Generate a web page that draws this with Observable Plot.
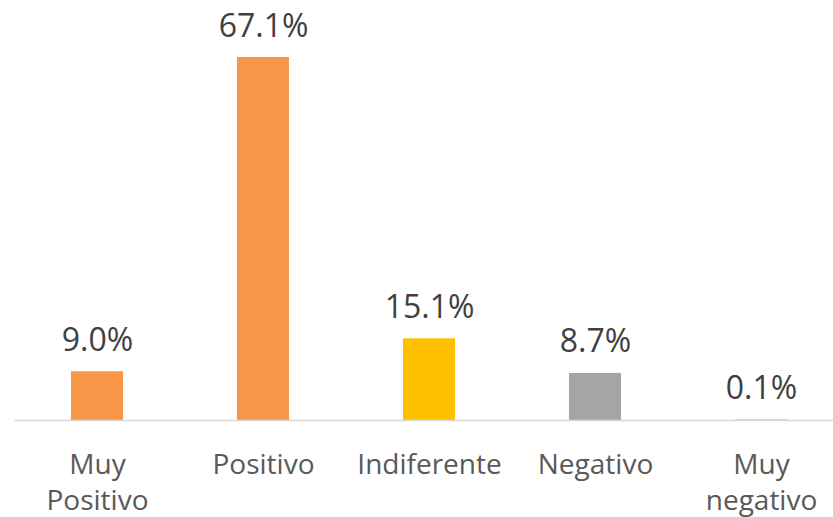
<!DOCTYPE html>
<html>
<head>
<meta charset="utf-8">
<script src="https://cdn.jsdelivr.net/npm/d3@7"></script>
<script src="https://cdn.jsdelivr.net/npm/@observablehq/plot@0.6"></script>
<style>
  html, body { margin: 0; padding: 0; background: #fff; }
  #chart svg { display: block; }
</style>
</head>
<body>
<div id="chart"></div>
<script>
const categories = ["Muy Positivo", "Positivo", "Indiferente", "Negativo", "Muy negativo"];
const tickLabels = ["Muy\nPositivo", "Positivo", "Indiferente", "Negativo", "Muy\nnegativo"];
const values = [9.0, 67.1, 15.1, 8.7, 0.1];
const colors = ["#F79646", "#F79646", "#FFC000", "#A5A5A5", "#A5A5A5"];

const data = categories.map((c, i) => ({ category: c, value: values[i], color: colors[i] }));
const labelOf = new Map(categories.map((c, i) => [c, tickLabels[i]]));

const chart = Plot.plot({
  width: 833,
  height: 517,
  marginTop: 0,
  marginLeft: 14,
  marginRight: 0,
  marginBottom: 97,
  style: { fontFamily: "'Open Sans', sans-serif", background: "#fff", overflow: "visible" },
  x: { domain: categories, range: [14, 844], paddingInner: 0.687, paddingOuter: 0.3435, axis: null },
  y: { domain: [0, 67.1], range: [420, 57], axis: null },
  marks: [
    Plot.barY(data, { x: "category", y: "value", fill: "color" }),
    Plot.ruleY([0], { stroke: "#D9D9D9", strokeWidth: 1.5 }),
    Plot.text(data, {
      x: "category", y: "value",
      text: d => d.value.toFixed(1) + "%",
      lineAnchor: "bottom", dy: -21,
      fontSize: 32, fill: "#404040"
    }),
    Plot.axisX({
      tickSize: 0, tickPadding: 28,
      tickFormat: d => labelOf.get(d),
      fontSize: 28, lineHeight: 1.29, fill: "#595959",
      label: null
    })
  ]
});
document.getElementById("chart").appendChild(chart);
</script>
</body>
</html>
